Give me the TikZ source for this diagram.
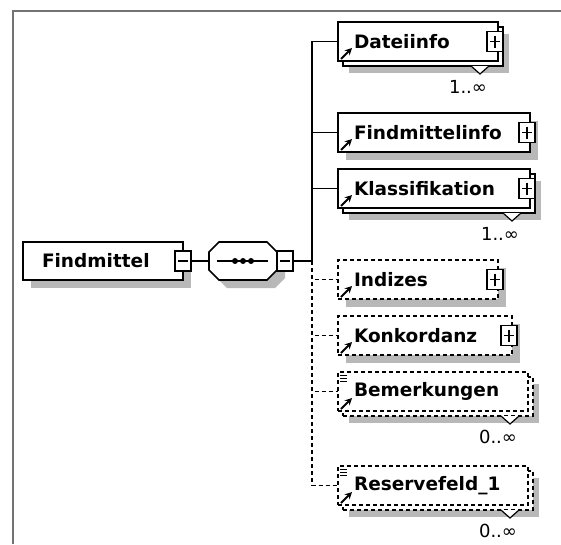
\documentclass[tikz,border=0pt]{standalone}
\usepackage{fontspec}
\setmainfont{DejaVu Sans}
\usetikzlibrary{positioning, shadows, arrows.meta}

\definecolor{shadowgray}{gray}{0.72}
\definecolor{framegray}{gray}{0.45}
\newcommand{\elemfont}{\fontsize{18.5}{22}\selectfont\bfseries}
\newcommand{\multfont}{\fontsize{18}{20}\selectfont}

\begin{document}
\begin{tikzpicture}[
    x=1pt, y=-1pt,
    line width=1.6pt,
    node distance=17pt,
    elem/.style={rectangle, draw, fill=white, minimum height=39pt, inner xsep=16pt, inner ysep=0pt, outer sep=0pt, text width=#1, align=left, font=\elemfont},
    singleshadow/.style={drop shadow={shadow xshift=8pt, shadow yshift=-8pt, fill=shadowgray, opacity=1}},
    stackshadow/.style={drop shadow={shadow xshift=11pt, shadow yshift=-12pt, fill=shadowgray, opacity=1}, copy shadow={shadow xshift=5pt, shadow yshift=-5pt, fill=white, draw=black}},
    optbox/.style={dash pattern=on 4pt off 3pt},
    pmbox/.style={rectangle, draw, fill=white, minimum width=16pt, minimum height=20pt, inner sep=0pt, outer sep=0pt, line width=1.3pt},
    minusbox/.style={pmbox, path picture={\draw ([xshift=3pt]path picture bounding box.west) -- ([xshift=-3pt]path picture bounding box.east);}},
    plusbox/.style={pmbox, path picture={\draw ([xshift=3pt]path picture bounding box.west) -- ([xshift=-3pt]path picture bounding box.east); \draw ([yshift=-4pt]path picture bounding box.north) -- ([yshift=4pt]path picture bounding box.south);}},
    mult/.style={font=\multfont, inner sep=1pt}
]
\useasboundingbox (0,0) rectangle (561,544);

% frame
\draw[framegray, line width=2pt] (13,544) -- (13,11) -- (561,11);

% root element and sequence
\node[elem=122pt, inner xsep=19pt, minimum height=38pt, singleshadow, anchor=west] (findmittel) at (23,261) {Findmittel};
\node[minusbox] (fmminus) at (findmittel.east) {};
\node[rectangle, minimum width=68pt, minimum height=38pt, inner sep=0pt, outer sep=0pt, right=18pt of fmminus] (seq) {};
\draw[fill=white, singleshadow] ([xshift=10pt]seq.north west) -- ([xshift=-10pt]seq.north east) -- ([yshift=-10pt]seq.north east)
    -- ([yshift=10pt]seq.south east) -- ([xshift=-10pt]seq.south east) -- ([xshift=10pt]seq.south west)
    -- ([yshift=10pt]seq.south west) -- ([yshift=-10pt]seq.north west) -- cycle;
\draw ([xshift=8pt]seq.west) -- ([xshift=-9pt]seq.east);
\foreach \dx in {-8,0,8}
    \fill ([xshift=\dx pt]seq.center) circle (3pt);
\node[minusbox, right=0pt of seq] (seqminus) {};
\coordinate (bus) at ([xshift=19pt]seqminus.east);

% child elements
\node[elem=128pt, stackshadow, anchor=north west] (dateiinfo) at (338,22) {Dateiinfo};
\node[elem=160pt, singleshadow, below=52pt of dateiinfo.south west, anchor=north west] (findmittelinfo) {Findmittelinfo};
\node[elem=160pt, stackshadow, below=of findmittelinfo.south west, anchor=north west] (klassifikation) {Klassifikation};
\node[elem=128pt, singleshadow, optbox, below=52pt of klassifikation.south west, anchor=north west] (indizes) {Indizes};
\node[elem=142pt, singleshadow, optbox, below=of indizes.south west, anchor=north west] (konkordanz) {Konkordanz};
\node[elem=158pt, stackshadow, optbox, below=of konkordanz.south west, anchor=north west] (bemerkungen) {Bemerkungen};
\node[elem=158pt, stackshadow, optbox, below=55pt of bemerkungen.south west, anchor=north west] (reservefeld) {Reservefeld\_1};

\foreach \n in {dateiinfo, findmittelinfo, klassifikation, indizes, konkordanz}
    \node[plusbox] (\n-plus) at ([xshift=-3pt]\n.east) {};

% reference arrows
\foreach \n in {dateiinfo, findmittelinfo, klassifikation, indizes, konkordanz, bemerkungen, reservefeld}
    \draw[-{Stealth[length=7pt,width=7pt]}, line width=2pt] ([shift={(3pt,2pt)}]\n.south west) -- ++(11pt,11pt);

% text content icons
\foreach \n in {bemerkungen, reservefeld}
    \foreach \dy in {3,6,9}
        \draw[line width=1pt] ([shift={(2pt,-\dy pt)}]\n.north west) -- ++(7pt,0pt);

% occurrence marks
\foreach \n/\m in {dateiinfo/1, klassifikation/1, bemerkungen/0, reservefeld/0} {
    \draw[fill=white, line width=1.2pt] ([shift={(-27pt,-5pt)}]\n.south east) -- ++(9pt,-8pt) -- ++(9pt,8pt);
    \node[mult] (\n-mult) at ([shift={(-30pt,-26pt)}]\n.south east) {\m..∞};
}

% connectors
\draw (fmminus) -- (seq);
\draw (seqminus) -- (bus);
\foreach \n in {dateiinfo, findmittelinfo, klassifikation}
    \draw (bus) |- (\n);
\foreach \n in {indizes, konkordanz, bemerkungen, reservefeld}
    \draw[optbox] (bus) |- (\n);

\end{tikzpicture}
\end{document}
